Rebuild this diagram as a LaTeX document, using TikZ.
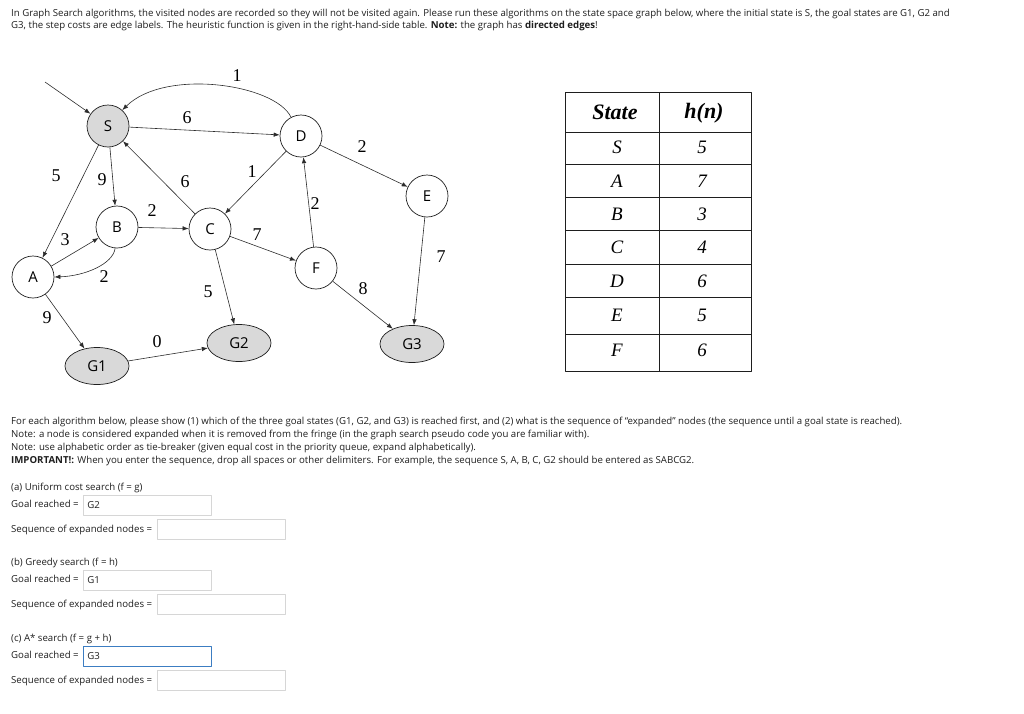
\documentclass[tikz,border=0pt]{standalone}
\usepackage{fontspec}
\setmainfont{Open Sans}
\newfontfamily\costfont{Liberation Serif}
\usetikzlibrary{arrows.meta,shapes.geometric}
\newcommand{\Unit}{1pt}
\newcommand{\Edge}{0.6pt}
\newcommand{\Body}{\fontsize{9.65}{12}\selectfont}
\definecolor{goalgray}{HTML}{D9D9D9}
\definecolor{ink}{HTML}{1E1E1E}
\definecolor{wire}{HTML}{2C2C2C}
\definecolor{fieldline}{HTML}{D6D6D6}
\definecolor{focus}{HTML}{3C7DC2}

\tikzset{
  stnode/.style={circle, draw=ink, line width=0.7pt, fill=white, minimum size=42pt,
    inner sep=0pt, font=\fontsize{15}{15}\selectfont},
  goalnode/.style={ellipse, draw=ink, line width=0.7pt, fill=goalgray, minimum width=64pt,
    minimum height=37pt, inner sep=0pt, font=\fontsize{15}{15}\selectfont},
  arc/.style={draw=wire, line width=\Edge, -{Latex[length=6pt,width=4.5pt]}},
  cost/.style={inner sep=0pt, font=\costfont\fontsize{18}{18}\selectfont},
  txt/.style={anchor=base west, inner sep=0pt, text=ink, font=\Body},
  cell/.style={inner sep=0pt, font=\costfont\itshape\fontsize{19}{19}\selectfont},
  headcell/.style={inner sep=0pt, font=\costfont\bfseries\itshape\fontsize{22}{22}\selectfont},
  field/.style={draw=fieldline, line width=0.8pt, anchor=west, minimum height=20pt,
    inner xsep=4pt, text width=120pt, align=left, text=ink, font=\Body}
}

\begin{document}
\begin{tikzpicture}[x=\Unit,y=-\Unit, line join=round]
  \useasboundingbox (0,0) rectangle (1024,713);

  % ---- question text ------------------------------------------------------
  \node[txt] (q1) at (11,16) {In Graph Search algorithms, the visited nodes are recorded so they will not be visited again. Please run these algorithms on the state space graph below, where the initial state is S, the goal states are G1, G2 and};
  \node[txt] (q2) at (11,28) {G3, the step costs are edge labels. The heuristic function is given in the right-hand-side table. \textbf{Note:} the graph has \textbf{directed edges}!};

  % ---- the graph ----------------------------------------------------------
  \node[stnode, fill=goalgray] (S) at (108,126) {S};
  \node[stnode] (D) at (301,136) {D};
  \node[stnode] (E) at (427,196) {E};
  \node[stnode] (B) at (117,227) {B};
  \node[stnode] (C) at (210,229) {C};
  \node[stnode] (A) at (33,277) {A};
  \node[stnode] (F) at (316,268) {F};
  \node[goalnode] (G1) at (97,366) {G1};
  \node[goalnode] (G2) at (239,343) {G2};
  \node[goalnode] (G3) at (412,344) {G3};
  \coordinate (entry) at (45,82);

  \draw[arc] (entry) -- (S);
  \draw[arc] (S) -- (D);
  \draw[arc] (D.118) .. controls (275,84) and (165,68) .. (S.48);
  \draw[arc] (S) -- (A);
  \draw[arc] (S) -- (B);
  \draw[arc] (C) -- (S);
  \draw[arc] (D) -- (C);
  \draw[arc] (B) -- (C);
  \draw[arc] (A) -- (B);
  \draw[arc] (B.265) .. controls (113,264) and (85,276) .. (A.east);
  \draw[arc] (C) -- (F);
  \draw[arc] (C) -- (G2);
  \draw[arc] (F) -- (D);
  \draw[arc] (D) -- (E);
  \draw[arc] (E) -- (G3);
  \draw[arc] (F) -- (G3);
  \draw[arc] (A) -- (G1);
  \draw[arc] (G1) -- (G2);

  % step costs
  \node[cost] (wDS) at (237,76) {1};
  \node[cost] (wSD) at (187,118) {6};
  \node[cost] (wSA) at (56,176) {5};
  \node[cost] (wSB) at (102,180) {9};
  \node[cost] (wCS) at (185,182) {6};
  \node[cost] (wDC) at (252,172) {1};
  \node[cost] (wBC) at (152,211) {2};
  \node[cost] (wCF) at (257,235) {7};
  \node[cost] (wAB) at (65,240) {3};
  \node[cost] (wDE) at (362,147) {2};
  \node[cost] (wFD) at (315,204) {2};
  \node[cost] (wEG) at (441,257) {7};
  \node[cost] (wBA) at (104,277) {2};
  \node[cost] (wCG) at (208,292) {5};
  \node[cost] (wAG) at (47,318) {9};
  \node[cost] (wGG) at (157,342) {0};
  \node[cost] (wFG) at (363,289) {8};

  % ---- heuristic table ----------------------------------------------------
  \draw[ink, line width=0.8pt] (565,92) rectangle (751,371);
  \draw[ink, line width=0.8pt] (659,92) -- (659,371);
  \foreach \y in {132.5,164.5,197.5,230.5,264.5,297.5,334.5} {
    \draw[ink, line width=0.8pt] (565,\y) -- (751,\y);
  }
  \node[headcell] (hState) at (615,112) {State};
  \node[headcell] (hH) at (704,113) {h(n)};
  \foreach \s/\h/\y in {S/5/147, A/7/181, B/3/214, C/4/247, D/6/281, E/5/315, F/6/350} {
    \node[cell] (st\s) at (617,\y) {\s};
    \node[cell] (hv\s) at (702,\y) {\h};
  }

  % ---- instructions -------------------------------------------------------
  \node[txt] (n1) at (11,424) {For each algorithm below, please show (1) which of the three goal states (G1, G2, and G3) is reached first, and (2) what is the sequence of “expanded” nodes (the sequence until a goal state is reached).};
  \node[txt] (n2) at (11,437) {Note: a node is considered expanded when it is removed from the fringe (in the graph search pseudo code you are familiar with).};
  \node[txt] (n3) at (11,450) {Note: use alphabetic order as tie-breaker (given equal cost in the priority queue, expand alphabetically).};
  \node[txt] (n4) at (11,463) {\textbf{IMPORTANT!:} When you enter the sequence, drop all spaces or other delimiters. For example, the sequence S, A, B, C, G2 should be entered as SABCG2.};

  % ---- answer fields ------------------------------------------------------
  \foreach \tag/\y/\title/\ans/\rim in {a/487/{(a) Uniform cost search (f = g)}/G2/fieldline,
                                       b/562/{(b) Greedy search (f = h)}/G1/fieldline,
                                       c/638/{(c) A* search (f = g + h)}/G3/focus} {
    \node[txt] (title\tag) at (11,\y+3) {\title};
    \node[txt] (goaltxt\tag) at (11,\y+20) {Goal reached =};
    \node[field, draw=\rim] (goal\tag) at (83,\y+18) {\ans};
    \node[txt] (seqtxt\tag) at (11,\y+45) {Sequence of expanded nodes =};
    \node[field] (seq\tag) at (157,\y+42) {};
  }

\end{tikzpicture}
\end{document}
